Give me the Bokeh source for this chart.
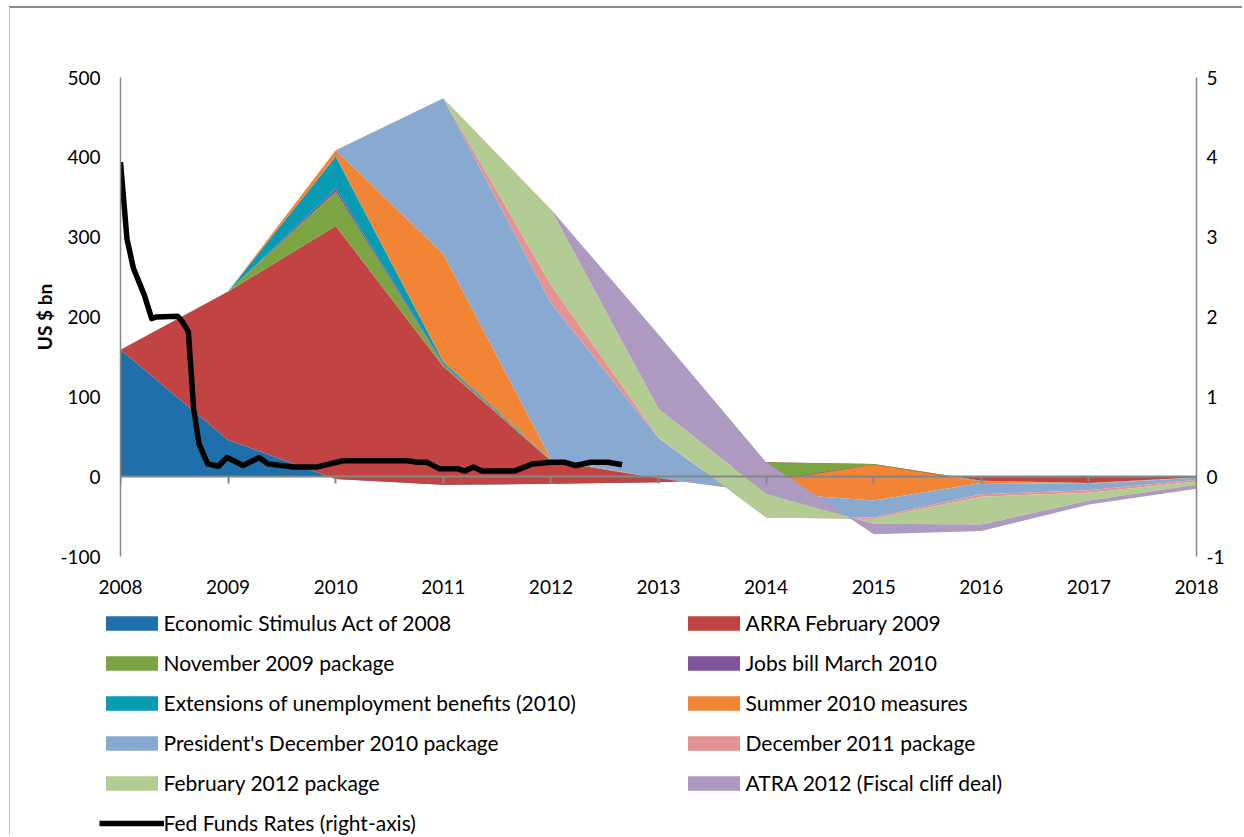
import numpy as np
from bokeh.plotting import figure
from bokeh.layouts import column
from bokeh.models import (Range1d, LinearAxis, FixedTicker, Legend, LegendItem)
from bokeh.embed import file_html
from bokeh.resources import INLINE

# ---------------- data (US $ bn) ----------------
years = [2008, 2009, 2010, 2011, 2012, 2013, 2014, 2015, 2016, 2017, 2018]
economic_stimulus_2008 = [159, 46, -3, -10, -9, -7, -1, -1, 0, 0, 0]
arra_feb_2009 = [0, 186, 317, 148, 29, 5, 19, 17, -5, -8, -1]
nov_2009_package = [0, 0, 43, 2, 0.5, 0, -23, -1, -0.5, -0.5, 0]
jobs_bill_mar_2010 = [0, 0, 4, 1.5, 0.5, 0, 0, 0, 0, 0, 0]
unemployment_ext_2010 = [0, 0, 40, 2.5, 0.5, 0, -1, 0, -0.5, 0, 0]
summer_2010_measures = [0, 0, 8, 135, 0.5, 0, -14, -45, -2, -0.5, -0.5]
presidents_dec_2010 = [0, 0, 0, 195, 196, 50, -30, -21, -14, -8, -2.5]
dec_2011_package = [0, 0, 0, 0, 22, 1, -1, -2, -3, -3, -2]
feb_2012_package = [0, 0, 0, 0, 95, 36, 30, -6, -35, -10, -4]
atra_2012 = [0, 0, 0, 0, 0, 93, 39, -13, -8, -5, -5]

series_names = [
    "Economic Stimulus Act of 2008",
    "ARRA February 2009",
    "November 2009 package",
    "Jobs bill March 2010",
    "Extensions of unemployment benefits (2010)",
    "Summer 2010 measures",
    "President's December 2010 package",
    "December 2011 package",
    "February 2012 package",
    "ATRA 2012 (Fiscal cliff deal)",
]
series_values = [economic_stimulus_2008, arra_feb_2009, nov_2009_package,
                 jobs_bill_mar_2010, unemployment_ext_2010, summer_2010_measures,
                 presidents_dec_2010, dec_2011_package, feb_2012_package, atra_2012]
series_colors = ["#1F70AA", "#C24442", "#7BA443", "#7E5597", "#0A9BB4",
                 "#F18535", "#89AAD0", "#E49392", "#B2CC94", "#AE9AC0"]

# Fed funds rate (%), right axis; x in decimal years
fed_year = [2008.0, 2008.06, 2008.12, 2008.22, 2008.29, 2008.33, 2008.53, 2008.57,
            2008.63, 2008.68, 2008.73, 2008.81, 2008.91, 2008.99, 2009.14, 2009.29,
            2009.37, 2009.61, 2009.82, 2010.07, 2010.67, 2010.76, 2010.85, 2010.96,
            2011.13, 2011.20, 2011.28, 2011.36, 2011.66, 2011.83, 2012.0, 2012.13,
            2012.23, 2012.37, 2012.53, 2012.66]
fed_rate = [3.94, 2.98, 2.61, 2.28, 1.98, 2.0, 2.01, 1.95,
            1.82, 0.85, 0.41, 0.16, 0.13, 0.24, 0.14, 0.24,
            0.16, 0.12, 0.12, 0.20, 0.20, 0.18, 0.18, 0.10,
            0.10, 0.07, 0.12, 0.07, 0.07, 0.16, 0.18, 0.18,
            0.14, 0.18, 0.18, 0.15]
fed_label = "Fed Funds Rates (right-axis)"

left_ticks = [-100, 0, 100, 200, 300, 400, 500]
right_ticks = [-1, 0, 1, 2, 3, 4, 5]

FONT = "Lato"
FS = "19px"
LEG_FS = "21px"
AXIS_GREY = "#868686"
OX, OY = 10, 8          # page offset of the chart box (margin + border)
W = 1232


def no_frame_align(fig):
    if "frame_align" in fig.properties():
        fig.frame_align = False


p = figure(width=W, height=605 - OY, output_backend="svg", toolbar_location=None,
           x_range=Range1d(2008, 2018), y_range=Range1d(-100, 500),
           x_axis_location=None, y_axis_location=None,
           min_border_left=120 - OX, min_border_right=W - (1196 - OX),
           min_border_top=77 - OY, min_border_bottom=49)
no_frame_align(p)
p.outline_line_color = None
p.xgrid.visible = False
p.ygrid.visible = False
p.extra_y_ranges = {"rate": Range1d(-1, 5)}

# stacked areas (Excel-style: each band between previous and current cumulative line)
cum_prev = np.zeros(len(years))
for vals, col in zip(series_values, series_colors):
    cum = cum_prev + np.array(vals, dtype=float)
    p.varea(x=years, y1=cum_prev.copy(), y2=cum.copy(), fill_color=col)
    cum_prev = cum

p.line(fed_year, fed_rate, y_range_name="rate", line_color="black",
       line_width=5.5, line_join="round")


def style_axis(ax, standoff):
    ax.major_tick_line_color = None
    ax.minor_tick_line_color = None
    ax.major_tick_out = 0
    ax.major_tick_in = 0
    ax.major_label_standoff = standoff
    ax.major_label_text_font = FONT
    ax.major_label_text_font_size = FS
    ax.major_label_text_color = "black"


left = LinearAxis(ticker=FixedTicker(ticks=left_ticks))
style_axis(left, 20)
left.axis_line_color = AXIS_GREY
left.axis_line_width = 1.5
left.major_label_overrides = {t: str(t) for t in left_ticks}
left.axis_label = "US $ bn"
left.axis_label_text_font = FONT
left.axis_label_text_font_size = FS
left.axis_label_text_font_style = "bold"
left.axis_label_text_color = "black"
left.axis_label_standoff = 1
p.add_layout(left, "left")

right = LinearAxis(y_range_name="rate", ticker=FixedTicker(ticks=right_ticks))
style_axis(right, 10)
right.axis_line_color = AXIS_GREY
right.axis_line_width = 1.5
right.major_label_overrides = {t: str(t) for t in right_ticks}
p.add_layout(right, "right")

# zero line with category ticks
zero_axis = LinearAxis(ticker=FixedTicker(ticks=years), fixed_location=0)
zero_axis.axis_line_color = AXIS_GREY
zero_axis.axis_line_width = 2
zero_axis.major_tick_line_color = AXIS_GREY
zero_axis.major_tick_line_width = 2
zero_axis.major_tick_in = 7
zero_axis.major_tick_out = 0
zero_axis.minor_tick_line_color = None
zero_axis.major_label_overrides = {y: "" for y in years}
zero_axis.major_label_text_font_size = "1px"
p.add_layout(zero_axis, "above")

# category labels at the bottom
xlab = LinearAxis(ticker=FixedTicker(ticks=years))
style_axis(xlab, 23)
xlab.axis_line_color = None
p.add_layout(xlab, "below")

# ---------------- legend panel ----------------
LH = 230
leg = figure(width=W, height=LH, output_backend="svg", toolbar_location=None,
             x_range=Range1d(0, W), y_range=Range1d(0, LH),
             x_axis_location=None, y_axis_location=None, min_border=0)
no_frame_align(leg)
leg.outline_line_color = None
leg.xgrid.visible = False
leg.ygrid.visible = False

# off-screen stand-ins so that each legend entry has a glyph to draw
items = []
for name, col in zip(series_names, series_colors):
    r = leg.varea(x=[-20, -10], y1=[-20, -20], y2=[-10, -10], fill_color=col)
    items.append(LegendItem(label=name, renderers=[r]))
lr = leg.line(x=[-20, -10], y=[-20, -20], line_color="black", line_width=5.5)
items.append(LegendItem(label=fed_label, renderers=[lr]))

legend = Legend(items=items, location=(98.5 - OX, 0), orientation="horizontal", ncols=2,
                glyph_width=65, glyph_height=18, label_standoff=0, label_width=502,
                label_height=25, spacing=15, padding=0, margin=0,
                border_line_color=None, background_fill_alpha=0,
                label_text_font=FONT, label_text_font_size=LEG_FS,
                label_text_color="black")
leg.add_layout(legend, "center")

layout = column(p, leg, spacing=0, margin=(6, 0, 0, 9),
                styles={"border-top": "2px solid #8c8c8c",
                        "border-left": "1px solid #c4c4c4"})
open("out.html", "w").write(file_html(layout, INLINE))
